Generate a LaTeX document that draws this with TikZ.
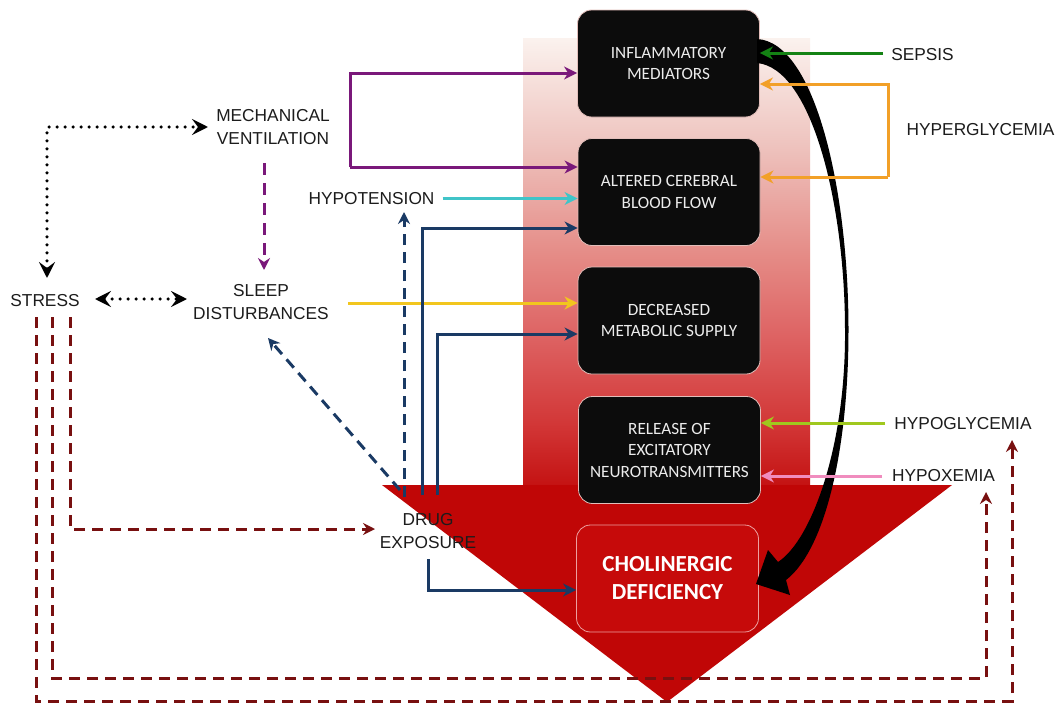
\documentclass[tikz,border=0pt]{standalone}
\usepackage{fontspec}
\setmainfont{Liberation Sans}
\newfontfamily\boxfont{Carlito}
\usetikzlibrary{arrows.meta}

% palette
\definecolor{labelgray}{RGB}{28,28,28}
\definecolor{boxtext}{RGB}{236,236,236}
\definecolor{boxfill}{RGB}{12,12,12}
\definecolor{boxrim}{RGB}{226,190,186}
\definecolor{headred}{RGB}{192,6,6}
\definecolor{cholred}{RGB}{198,10,10}
\definecolor{cholrim}{RGB}{236,160,160}
\definecolor{purpleline}{RGB}{122,24,122}
\definecolor{cyanline}{RGB}{64,196,200}
\definecolor{navyline}{RGB}{26,58,100}
\definecolor{yellowline}{RGB}{242,198,30}
\definecolor{greenline}{RGB}{20,130,20}
\definecolor{orangeline}{RGB}{242,160,40}
\definecolor{limeline}{RGB}{160,200,30}
\definecolor{pinkline}{RGB}{240,140,190}
\definecolor{maroonline}{RGB}{120,16,16}

% fade of the arrow shaft, from the deep red base up to almost white
\definecolor{sA}{RGB}{196,18,18}
\definecolor{sB}{RGB}{210,55,55}
\definecolor{sC}{RGB}{222,100,100}
\definecolor{sD}{RGB}{229,140,135}
\definecolor{sE}{RGB}{238,195,190}
\definecolor{sF}{RGB}{251,242,238}
\pgfdeclareverticalshading{shaftfade}{100bp}{%
  color(0bp)=(sA); color(25bp)=(sA); color(32bp)=(sB); color(42bp)=(sC);
  color(51bp)=(sD); color(63bp)=(sE); color(75bp)=(sF); color(100bp)=(sF)}

\tikzset{
  lbl/.style={font=\fontsize{17.3}{23}\selectfont, text=labelgray, inner sep=0pt, align=center},
  stagebox/.style={rectangle, rounded corners=14pt, fill=boxfill, draw=boxrim, line width=0.8pt,
    minimum width=182pt, minimum height=107pt, inner sep=0pt, align=center, text=boxtext,
    font=\boxfont\fontsize{17.2}{21.5}\selectfont},
  solidarr/.style={line width=3pt, -{Stealth[length=13pt,width=13pt,inset=4pt]}},
  dasharr/.style={line width=3pt, dash pattern=on 11pt off 7pt,
    -{Stealth[length=12pt,width=12pt,inset=4pt]}},
  dotarr/.style={line width=3.6pt, dash pattern=on 0pt off 8pt, line cap=round,
    {Stealth[length=16pt,width=16pt,inset=6pt]}-{Stealth[length=16pt,width=16pt,inset=6pt]}},
}

\begin{document}
\begin{tikzpicture}[x=1pt,y=-1pt]
\fill[white] (0,0) rectangle (1058,704);
\useasboundingbox (0,0) rectangle (1058,704);

% big downward arrow: faded shaft and solid head
\shade[shading=shaftfade] (523,38) rectangle (810,486);
\fill[headred] (382,485) -- (952,485) -- (667,702) -- cycle;

% stage boxes
\node[stagebox] (infl) at (668.5,63.5) {INFLAMMATORY\\MEDIATORS};
\node[stagebox] (cbf)  at (669,192)    {ALTERED CEREBRAL\\BLOOD FLOW};
\node[stagebox] (meta) at (669,320.5)  {DECREASED\\METABOLIC SUPPLY};
\node[stagebox] (exci) at (669.5,450)  {RELEASE OF\\EXCITATORY\\NEUROTRANSMITTERS};
\node[stagebox, fill=cholred, draw=cholrim, text=white,
      font=\boxfont\bfseries\fontsize{23}{28}\selectfont] (chol) at (667.5,578.5) {CHOLINERGIC\\DEFICIENCY};

% tapered black arrow from the mediators down to the deficiency
\fill[black] (757,39) .. controls (815,42) and (848.5,190) .. (848.5,330)
  .. controls (848.5,450) and (825,550) .. (786,580) -- (790,595) -- (756,584)
  -- (768,550) -- (778,562) .. controls (812,540) and (846,445) .. (845,330)
  .. controls (845,205) and (812,68) .. (757,63) -- cycle;

% outer factors
\node[lbl] (mv)     at (273,127.5) {MECHANICAL\\VENTILATION};
\node[lbl] (sleep)  at (261,302)   {SLEEP\\DISTURBANCES};
\node[lbl] (stress) at (45,300.5)  {STRESS};
\node[lbl] (hypot)  at (371.5,198.5) {HYPOTENSION};
\node[lbl] (drug)   at (428,531)   {DRUG\\EXPOSURE};
\node[lbl] (sepsis) at (922.5,54.5) {SEPSIS};
\node[lbl] (hyper)  at (980.5,130) {HYPERGLYCEMIA};
\node[lbl] (hypog)  at (963,424)   {HYPOGLYCEMIA};
\node[lbl] (hypox)  at (943.5,475.5) {HYPOXEMIA};

% bend points and free ends
\coordinate (mvT) at (350,73);   \coordinate (mvB) at (350,167);
\coordinate (mvDrop) at (264,163); \coordinate (slTop) at (264,270);
\coordinate (ys) at (348,303);
\coordinate (d1) at (422,495);   \coordinate (d1t) at (422,228);
\coordinate (d2) at (437,495);   \coordinate (d2t) at (437,334);
\coordinate (d3) at (428,559);   \coordinate (d3b) at (428,590);
\coordinate (d4) at (404,497);   \coordinate (hyIn) at (404,212);
\coordinate (d5) at (400,490);   \coordinate (slIn) at (268,338);
\coordinate (sp) at (883,53);
\coordinate (hgT) at (888,84);   \coordinate (hgB) at (888,177);
\coordinate (hg) at (885,423);   \coordinate (hx) at (882,476);
\coordinate (s1) at (70,317);    \coordinate (s1c) at (70,529);  \coordinate (drugIn) at (375,529);
\coordinate (s2) at (52,317);    \coordinate (s2c) at (52,678);  \coordinate (s2e) at (986,678); \coordinate (hxIn) at (986,492);
\coordinate (s3) at (36,317);    \coordinate (s3c) at (36,701);  \coordinate (s3e) at (1012,701); \coordinate (hgIn) at (1012,440);
\coordinate (stTop) at (47,278); \coordinate (stCorner) at (47,127); \coordinate (mvIn) at (208,127);
\coordinate (stR) at (95,299);   \coordinate (slL) at (187,299);

% mechanical ventilation
\draw[solidarr, purpleline] (mvB) -- (mvT) -- (mvT -| infl.west);
\draw[solidarr, purpleline] (mvB) -- (mvB -| cbf.west);
\draw[dasharr, purpleline, dash pattern=on 12pt off 8pt] (mvDrop) -- (slTop);

% hypotension and sleep
\draw[solidarr, cyanline] ([xshift=8pt]hypot.east) -- (hypot.east -| cbf.west);
\draw[solidarr, yellowline] (ys) -- (ys -| meta.west);

% drug exposure
\draw[dasharr, navyline] (d4) -- (hyIn);
\draw[dasharr, navyline] (d5) -- (slIn);
\draw[solidarr, navyline] (d1) -- (d1t) -- (d1t -| cbf.west);
\draw[solidarr, navyline] (d2) -- (d2t) -- (d2t -| meta.west);
\draw[solidarr, navyline] (d3) -- (d3b) -- (d3b -| chol.west);

% metabolic factors on the right
\draw[solidarr, greenline] (sp) -- (sp -| infl.east);
\draw[solidarr, orangeline] (hgB) -- (hgT) -- (hgT -| infl.east);
\draw[solidarr, orangeline] (hgB) -- (hgB -| cbf.east);
\draw[solidarr, limeline] (hg) -- (hg -| exci.east);
\draw[solidarr, pinkline] (hx) -- (hx -| exci.east);

% stress
\draw[dasharr, maroonline] (s1) -- (s1c) -- (drugIn);
\draw[dasharr, maroonline] (s2) -- (s2c) -- (s2e) -- (hxIn);
\draw[dasharr, maroonline] (s3) -- (s3c) -- (s3e) -- (hgIn);
\draw[dotarr] (stTop) -- (stCorner) -- (mvIn);
\draw[dotarr] (stR) -- (slL);
\end{tikzpicture}
\end{document}
